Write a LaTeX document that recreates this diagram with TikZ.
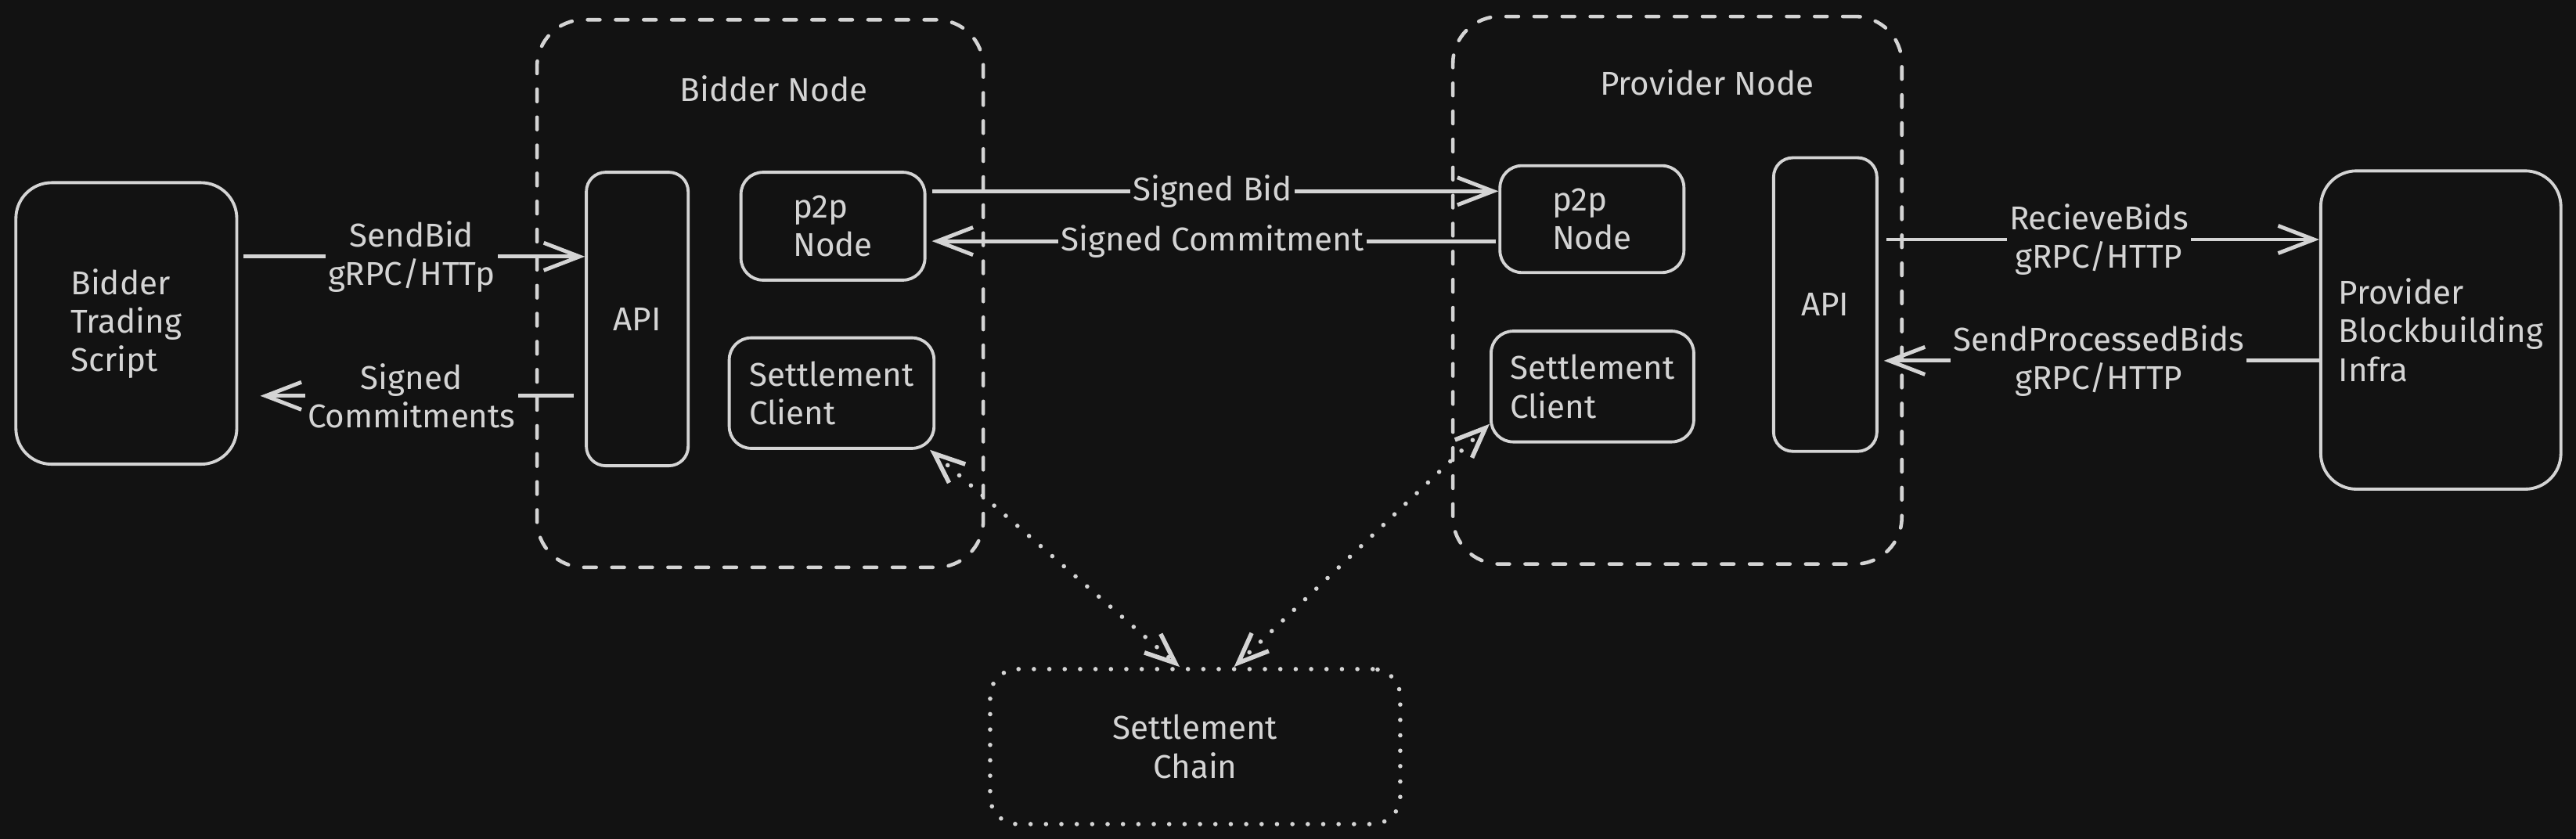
\documentclass[tikz,border=0pt]{standalone}
\usepackage{fontspec}
\setmainfont{Fira Sans}
\usetikzlibrary{arrows.meta}
\definecolor{bgdark}{HTML}{121212}
\definecolor{ink}{HTML}{D4D4D4}
\tikzset{box/.style = {draw=ink, line width=1.1pt, rounded corners=8pt,
                       text=ink, align=left, inner sep=0pt},
         group/.style = {draw=ink, line width=1.3pt, rounded corners=17pt, line cap=round,
                         dash pattern=on 4.5pt off 5.7pt, inner sep=0pt},
         title/.style = {text=ink, inner sep=1pt},
         flow/.style = {draw=ink, line width=1.4pt, line join=round,
                        -{Straight Barb[length=13pt, width=10pt, line width=1.4pt]}},
         sync/.style = {draw=ink, line width=1.6pt, line cap=round,
                        dash pattern=on 0pt off 5.6pt,
                        {Straight Barb[length=11pt, width=9pt]}-{Straight Barb[length=11pt, width=9pt]}},
         tag/.style = {fill=bgdark, text=ink, align=center, inner sep=1pt}}

\begin{document}
\begin{tikzpicture}[x=0.02099cm, y=-0.02099cm, font=\fontsize{12}{14}\selectfont]
    \fill [bgdark] (0, 0) rectangle (1568, 510.7);

    % bidder side
    \node [box, rounded corners=13pt, minimum width=2.823cm, minimum height=3.598cm] (script) at (76.9, 196.9) {Bidder\\Trading\\Script};
    \node [group, minimum width=5.703cm, minimum height=6.998cm] (bidgroup) at (462.7, 178.7) {};
    \node [title] (bidtitle) at (471, 54) {Bidder Node};
    \node [box, rounded corners=7pt, minimum width=1.301cm, minimum height=3.751cm] (bidapi) at (387.9, 194.2) {API};
    \node [box, minimum width=2.351cm, minimum height=1.378cm] (bidp2p) at (507, 137.7) {p2p\\Node};
    \node [box, minimum width=2.617cm, minimum height=1.413cm] (bidclient) at (506.2, 239.3) {Settlement\\Client};

    % provider side
    \node [group, minimum width=5.737cm, minimum height=6.998cm] (provgroup) at (1021, 176.7) {};
    \node [title] (provtitle) at (1039, 50) {Provider Node};
    \node [box, minimum width=2.351cm, minimum height=1.366cm] (provp2p) at (969, 133.4) {p2p\\Node};
    \node [box, rounded corners=7pt, minimum width=1.320cm, minimum height=3.753cm] (provapi) at (1111, 185.4) {API};
    \node [box, minimum width=2.590cm, minimum height=1.415cm] (provclient) at (969.3, 235.3) {Settlement\\Client};
    \node [box, rounded corners=13pt, minimum width=3.069cm, minimum height=4.068cm] (infra) at (1485.7, 200.9) {Provider\\Blockbuilding\\Infra};

    \node [box, align=center, rounded corners=10pt, dash pattern=on 0pt off 5.6pt, line cap=round, line width=1.6pt,
           minimum width=5.241cm, minimum height=1.981cm] (chain) at (727.5, 454.5) {Settlement\\Chain};

    % rows of the connectors
    \coordinate (sendrow) at (0, 156.2);
    \coordinate (backrow) at (0, 241);
    \coordinate (bidrow) at (0, 116.4);
    \coordinate (commitrow) at (0, 146.8);
    \coordinate (recvrow) at (0, 145.8);
    \coordinate (procrow) at (0, 219.6);

    \draw [flow, shorten <=2pt] (script.east |- sendrow) -- (bidapi.west |- sendrow)
        node [tag, midway] {SendBid\\gRPC/HTTp};
    \draw [flow, shorten <=4pt, shorten >=8pt] (bidapi.west |- backrow) -- (script.east |- backrow)
        node [tag, midway] {Signed\\Commitments};

    \draw [flow, shorten <=2pt] (bidp2p.east |- bidrow) -- (provp2p.west |- bidrow)
        node [tag, midway] {Signed Bid};
    \draw [flow, shorten <=1pt, shorten >=2pt] (provp2p.west |- commitrow) -- (bidp2p.east |- commitrow)
        node [tag, midway] {Signed Commitment};

    \draw [flow, shorten <=3pt] (provapi.east |- recvrow) -- (infra.west |- recvrow)
        node [tag, midway] {RecieveBids\\gRPC/HTTP};
    \draw [flow, shorten >=2pt] (infra.west |- procrow) -- (provapi.east |- procrow)
        node [tag, midway] {SendProcessedBids\\gRPC/HTTP};

    \draw [sync] (bidclient.-30) -- (chain.101);
    \draw [sync] (provclient.200) -- (chain.64);
\end{tikzpicture}
\end{document}
